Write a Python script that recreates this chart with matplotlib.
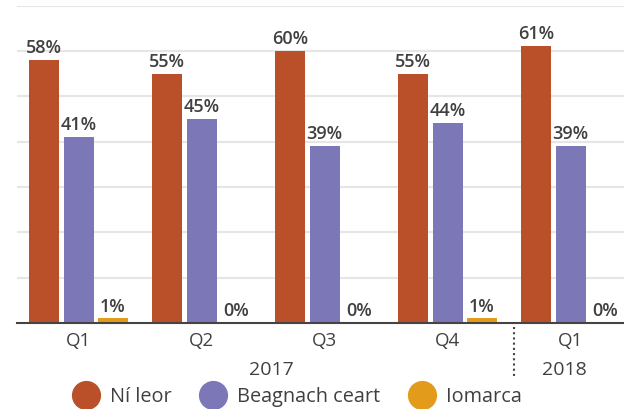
import matplotlib
matplotlib.use("Agg")
import matplotlib.pyplot as plt
from matplotlib.lines import Line2D
import matplotlib.transforms as mtransforms
import numpy as np

plt.rcParams['font.family'] = ['Open Sans', 'DejaVu Sans']

categories = ["Q1", "Q2", "Q3", "Q4", "Q1"]
years = ["2017", "2018"]
series_names = ["Ní leor", "Beagnach ceart", "Iomarca"]
ni_leor = [58, 55, 60, 55, 61]
beagnach_ceart = [41, 45, 39, 44, 39]
iomarca = [1, 0, 0, 1, 0]
colors = ["#B9502A", "#7C78B8", "#E39B1B"]

W, H = 624, 409
fig = plt.figure(figsize=(W / 100, H / 100), dpi=100)
left_px, right_px, base_px, top_px = 17, 624, 323, 5.5
ax = fig.add_axes([left_px / W, (H - base_px) / H, (right_px - left_px) / W, (base_px - top_px) / H])

x = np.arange(len(categories))
group_px = 123.0
bw = 30 / group_px
step = 34.5 / group_px
text_color = "#404040"

for i, (vals, c) in enumerate(zip([ni_leor, beagnach_ceart, iomarca], colors)):
    xs = x + (i - 1) * step
    ax.bar(xs, vals, width=bw, color=c, zorder=3)
    for xx, v in zip(xs, vals):
        ax.annotate(f"{v}%", (xx, v), xytext=(0, 5), textcoords="offset points",
                    ha="center", va="baseline", fontsize=13, fontweight="semibold",
                    color=text_color, zorder=4)

ax.set_xlim(-0.5, -0.5 + (right_px - left_px) / group_px)
ax.set_ylim(0, 70)
ax.set_yticks(np.arange(10, 71, 10))
ax.yaxis.grid(True, color="#e6e6e6", lw=1.5, zorder=0)
ax.tick_params(axis="y", left=False, labelleft=False)
ax.set_xticks(x)
ax.set_xticklabels(categories, fontsize=13.5, color=text_color)
ax.tick_params(axis="x", length=0, pad=6.5)
for s in ["top", "right", "left"]:
    ax.spines[s].set_visible(False)
ax.spines["bottom"].set_color("#444444")
ax.spines["bottom"].set_linewidth(1.5)
ax.spines["bottom"].set_zorder(5)

# year labels
trans = mtransforms.blended_transform_factory(ax.transData, fig.transFigure)
ax.text(1.5 + 8 / group_px, 1 - 375 / H, years[0], transform=trans, ha="center",
        va="baseline", fontsize=14, color=text_color)
ax.text(4 - 6 / group_px, 1 - 375 / H, years[1], transform=trans, ha="center",
        va="baseline", fontsize=14, color=text_color)

# dotted divider between years
trans2 = mtransforms.blended_transform_factory(ax.transData, ax.transAxes)
ax.add_line(Line2D([3.54, 3.54], [-0.0126, -0.176], transform=trans2, color="#444444",
                   lw=1.5, linestyle=(0, (1, 1.5)), clip_on=False))

handles = [Line2D([], [], marker="o", linestyle="none", markersize=20,
                  markerfacecolor=c, markeredgecolor=c) for c in colors]
fig.legend(handles, series_names, loc="center left", bbox_to_anchor=(72 / W, 1 - 397 / H),
           ncol=3, frameon=False, fontsize=14.3, borderaxespad=0, borderpad=0,
           handlelength=1.4, handletextpad=0.5, columnspacing=1.4,
           labelcolor=text_color)

fig.savefig("out.png", dpi=100)
